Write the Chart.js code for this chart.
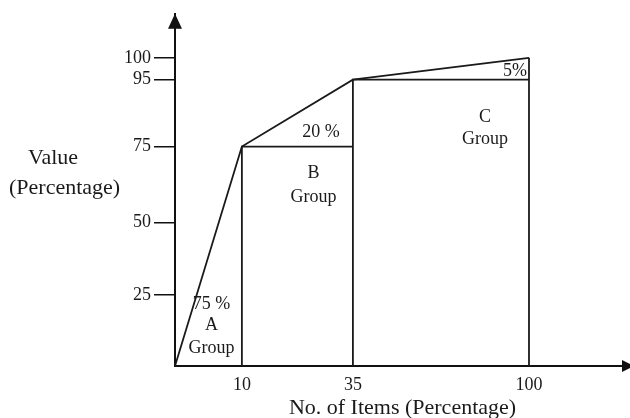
<!DOCTYPE html>
<html>
<head>
<meta charset="utf-8">
<script src="https://cdn.jsdelivr.net/npm/chart.js@4.4.1/dist/chart.umd.min.js"></script>
<style>
html, body { margin: 0; padding: 0; background: #fff; }
#wrap { width: 630px; height: 418px; }
</style>
</head>
<body>
<div id="wrap"><canvas id="abc"></canvas></div>
<script>
// cumulative share of items (x) and of value (y) at the end of each group
const itemPct = [0, 10, 35, 100];
const valuePct = [0, 75, 95, 100];
const groupNames = ['A', 'B', 'C'];
const groupShare = ['75 %', '20 %', '5%'];
const xTicks = [10, 35, 100];
const yTicks = [25, 50, 75, 95, 100];
const xTitle = 'No. of Items (Percentage)';
const yTitle = ['Value', '(Percentage)'];

const INK = '#1a1a1a';
const SERIF = '"Liberation Serif", "Times New Roman", serif';

// the drawing is schematic: axes are not linear, so map values piecewise
class PiecewiseScale extends Chart.LinearScale {
    getPixelForValue(value) {
        const stops = this.options.stops;
        let i = 1;
        while (i < stops.length - 1 && value > stops[i][0]) i++;
        const [v0, f0] = stops[i - 1];
        const [v1, f1] = stops[i];
        return this.getPixelForDecimal(f0 + (value - v0) / (v1 - v0) * (f1 - f0));
    }
    getValueForPixel(pixel) {
        const stops = this.options.stops;
        const d = this.getDecimalForPixel(pixel);
        let i = 1;
        while (i < stops.length - 1 && d > stops[i][1]) i++;
        const [v0, f0] = stops[i - 1];
        const [v1, f1] = stops[i];
        return v0 + (d - f0) / (f1 - f0) * (v1 - v0);
    }
}
PiecewiseScale.id = 'piecewise';
PiecewiseScale.defaults = Chart.LinearScale.defaults;
Chart.register(PiecewiseScale);

const lineStyle = {
    borderColor: '#1a1a1a',
    borderWidth: 1.8,
    pointRadius: 0,
    fill: false,
    tension: 0,
    clip: false
};

const datasets = [{
    label: 'Cumulative',
    data: itemPct.map((x, i) => ({ x: x, y: valuePct[i] })),
    ...lineStyle
}];
// box of each group: vertical edge at its end, top edge over the next group
for (let i = 1; i < itemPct.length; i++) {
    const pts = [{ x: itemPct[i], y: 0 }, { x: itemPct[i], y: valuePct[i] }];
    if (i < itemPct.length - 1) pts.push({ x: itemPct[i + 1], y: valuePct[i] });
    datasets.push({ label: 'Group ' + groupNames[i - 1], data: pts, ...lineStyle });
}

const annotations = {
    id: 'annotations',
    afterDraw(chart) {
        const { ctx, chartArea: a, scales: { x, y } } = chart;
        ctx.save();
        ctx.fillStyle = '#111';
        // arrow heads
        ctx.beginPath();
        ctx.moveTo(a.left, a.top);
        ctx.lineTo(a.left - 7, a.top + 15);
        ctx.lineTo(a.left + 7, a.top + 15);
        ctx.closePath();
        ctx.fill();
        ctx.beginPath();
        ctx.moveTo(a.right + 4, a.bottom);
        ctx.lineTo(a.right - 8, a.bottom - 6);
        ctx.lineTo(a.right - 8, a.bottom + 6);
        ctx.closePath();
        ctx.fill();

        ctx.fillStyle = INK;
        ctx.textBaseline = 'middle';
        ctx.font = '22px ' + SERIF;
        ctx.textAlign = 'left';
        ctx.fillText(yTitle[0], 28, 158);
        ctx.fillText(yTitle[1], 9, 188);

        ctx.font = '18px ' + SERIF;
        ctx.textAlign = 'center';
        const px = v => x.getPixelForValue(v);
        const py = v => y.getPixelForValue(v);

        // group A sits at the bottom of its strip
        const xa = (px(itemPct[0]) + px(itemPct[1])) / 2 + 3;
        ctx.fillText(groupShare[0], xa, a.bottom - 62);
        ctx.fillText(groupNames[0], xa, a.bottom - 41);
        ctx.fillText('Group', xa, a.bottom - 18);

        // group B
        const xb = (px(itemPct[1]) + px(itemPct[2])) / 2 + 16;
        const tb = py(valuePct[1]);
        ctx.fillText(groupNames[1], xb, tb + 27);
        ctx.fillText('Group', xb, tb + 51);
        ctx.fillText(groupShare[1], px(itemPct[2]) - 32, tb - 14);

        // group C
        const xc = (px(itemPct[2]) + px(itemPct[3])) / 2 + 44;
        const tc = py(valuePct[2]);
        ctx.fillText(groupNames[2], xc, tc + 38);
        ctx.fillText('Group', xc, tc + 60);
        ctx.textAlign = 'right';
        ctx.fillText(groupShare[2], px(itemPct[3]) - 2, tc - 8);
        ctx.restore();
    }
};

new Chart(document.getElementById('abc'), {
    type: 'line',
    data: { datasets: datasets },
    options: {
        responsive: true,
        maintainAspectRatio: false,
        animation: false,
        layout: { padding: { top: 13, left: 0, right: 0, bottom: 0 } },
        plugins: {
            legend: { display: false },
            tooltip: { enabled: false }
        },
        scales: {
            x: {
                type: 'piecewise',
                min: 0,
                max: 125,
                stops: [[0, 0], [10, 0.147], [35, 0.391], [100, 0.778], [125, 1]],
                afterBuildTicks: s => { s.ticks = xTicks.map(v => ({ value: v })); },
                afterFit: s => { s.height = 52; },
                grid: { display: false },
                border: { display: true, color: '#111', width: 2 },
                ticks: {
                    color: INK,
                    font: { family: SERIF, size: 18 },
                    padding: 0,
                    maxRotation: 0,
                    autoSkip: false,
                    callback: v => String(v)
                },
                title: {
                    display: true,
                    text: xTitle,
                    color: INK,
                    font: { family: SERIF, size: 22, lineHeight: 0.85 },
                    padding: { top: 0, bottom: 0 }
                }
            },
            y: {
                type: 'piecewise',
                min: 0,
                max: 115,
                stops: [[0, 0], [25, 0.201], [50, 0.408], [75, 0.623], [95, 0.813], [100, 0.875], [115, 1]],
                afterBuildTicks: s => { s.ticks = yTicks.map(v => ({ value: v })); },
                afterFit: s => { s.width = 175; },
                grid: { drawOnChartArea: false, drawTicks: true, tickLength: 21, color: '#111', lineWidth: 1.5 },
                border: { display: true, color: '#111', width: 2 },
                ticks: {
                    color: INK,
                    font: { family: SERIF, size: 18 },
                    padding: 3,
                    autoSkip: false,
                    callback: v => String(v)
                }
            }
        }
    },
    plugins: [annotations]
});
</script>
</body>
</html>
